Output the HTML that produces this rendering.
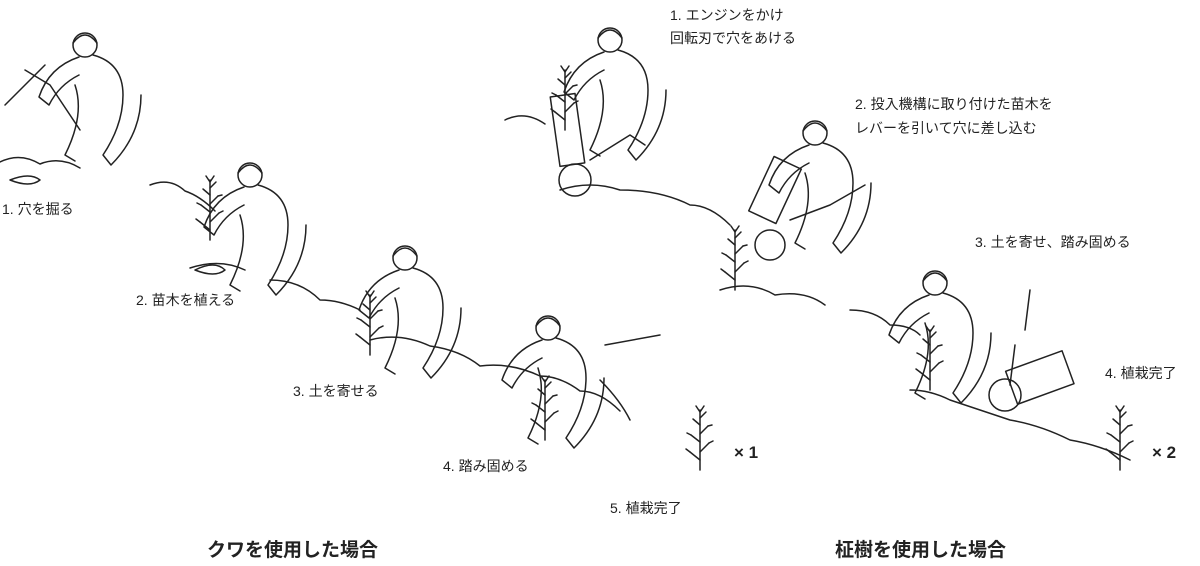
<!DOCTYPE html>
<html><head><meta charset="utf-8"><style>
html,body{margin:0;padding:0;background:#fff;}
#w{position:relative;width:1200px;height:566px;overflow:hidden;font-family:"Liberation Sans","Noto Sans CJK JP",sans-serif;color:#222;}
.t{position:absolute;font-size:14px;white-space:nowrap;line-height:1;}
.b{font-weight:bold;font-size:19px;}
.x{font-weight:bold;font-size:17px;}
svg{position:absolute;left:0;top:0;}
</style></head><body><div id="w">
<svg width="1200" height="566" viewBox="0 0 1200 566" fill="none" stroke="#222" stroke-width="1.5" stroke-linecap="round" stroke-linejoin="round">
<defs>
<g id="tree"><path d="M0 0 V-60"/><path d="M0 -10 l-10 -8 M0 -18 l9 -9 M0 -28 l-9 -7 M0 -36 l8 -8 M0 -45 l-7 -6 M0 -52 l6 -6 M0 -58 l-4 -6 M0 -58 l4 -6"/><path d="M-10 -18 l-4 -3 M9 -27 l4 -2 M-9 -35 l-4 -2 M8 -44 l4 -1"/></g>
<g id="man"><circle cx="0" cy="0" r="12"/><path d="M-12 -2 q12 -16 24 0"/><path d="M-6 12 q-30 10 -40 40 l10 8 q10 -20 30 -30 M8 10 q30 8 30 40 q0 30 -20 60 l8 10 q30 -30 30 -70 M-10 40 q10 30 -10 70 l10 6"/></g>
</defs>
<path d="M0 162 q20 -10 40 2 q20 -8 40 4 M150 185 q20 -8 35 6 q15 5 30 20 M190 268 q30 -10 55 2 M270 280 q30 0 50 20 q20 0 40 10 M370 340 q30 -8 60 6 q30 4 50 20 q30 -4 60 10 q20 0 40 15 q20 0 40 20"/>
<path d="M10 180 q20 -8 30 0 q-10 8 -30 0"/>
<path d="M195 270 q20 -10 30 0 q-10 8 -30 0"/>
<use href="#man" x="85" y="45"/>
<path d="M5 105 l40 -40 M25 70 l25 15 l30 45"/>
<use href="#tree" x="210" y="240"/>
<use href="#man" x="250" y="175"/>
<use href="#tree" x="370" y="355"/>
<use href="#man" x="405" y="258"/>
<use href="#tree" x="545" y="440"/>
<use href="#man" x="548" y="328"/>
<path d="M605 345 l55 -10 M600 380 q20 20 30 40"/>
<use href="#tree" x="700" y="470"/>
<path d="M505 120 q20 -10 40 4 M560 190 q30 -10 60 0 q40 0 70 15 q20 0 40 20 M720 290 q30 -10 55 5 q30 -5 50 10 M850 310 q25 0 40 15 q20 0 30 10 M910 390 q20 0 40 10 q30 10 60 20 q30 5 60 20 q30 5 60 20"/>
<use href="#tree" x="565" y="130"/>
<use href="#man" x="610" y="40"/>
<rect x="555" y="95" width="25" height="70" transform="rotate(-8 567 130)"/>
<circle cx="575" cy="180" r="16"/>
<path d="M590 160 l40 -25 l15 10"/>
<use href="#tree" x="735" y="290"/>
<use href="#man" x="815" y="133"/>
<rect x="760" y="160" width="30" height="60" transform="rotate(25 775 190)"/>
<circle cx="770" cy="245" r="15"/>
<path d="M790 220 l40 -15 l35 -20"/>
<use href="#tree" x="930" y="390"/>
<use href="#man" x="935" y="283"/>
<rect x="1010" y="360" width="60" height="35" transform="rotate(-20 1040 378)"/>
<circle cx="1005" cy="395" r="16"/>
<path d="M1015 345 l-5 40 M1030 290 l-5 40"/>
<use href="#tree" x="1120" y="470"/>
</svg>
<div class="t" style="left:2px;top:202px">1. 穴を掘る</div>
<div class="t" style="left:136px;top:293px">2. 苗木を植える</div>
<div class="t" style="left:293px;top:384px">3. 土を寄せる</div>
<div class="t" style="left:443px;top:459px">4. 踏み固める</div>
<div class="t" style="left:610px;top:501px">5. 植栽完了</div>
<div class="t x" style="left:734px;top:444px">× 1</div>
<div class="t b" style="left:207px;top:541px">クワを使用した場合</div>
<div class="t" style="left:670px;top:8px">1. エンジンをかけ</div>
<div class="t" style="left:670px;top:31px">回転刃で穴をあける</div>
<div class="t" style="left:855px;top:97px">2. 投入機構に取り付けた苗木を</div>
<div class="t" style="left:855px;top:121px">レバーを引いて穴に差し込む</div>
<div class="t" style="left:975px;top:235px">3. 土を寄せ、踏み固める</div>
<div class="t" style="left:1105px;top:366px">4. 植栽完了</div>
<div class="t x" style="left:1152px;top:444px">× 2</div>
<div class="t b" style="left:835px;top:541px">柾樹を使用した場合</div>
</div></body></html>
